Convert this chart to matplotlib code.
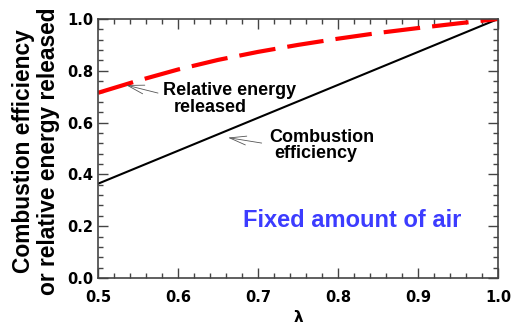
import numpy as np
import matplotlib
matplotlib.use("Agg")
import matplotlib.pyplot as plt
from matplotlib.ticker import MultipleLocator

# lambda values and the two curves read at those points
lam_energy = [0.50, 0.55, 0.60, 0.65, 0.70, 0.75, 0.80, 0.85, 0.90, 0.95, 1.00]
rel_energy = [0.715, 0.762, 0.805, 0.842, 0.873, 0.900, 0.924, 0.946, 0.965, 0.983, 1.000]
lam_eff = [0.5, 1.0]
comb_eff = [0.364, 1.0]

TICK_FONT = ['DejaVu Sans']
TEXT_FONT = ['Liberation Sans', 'DejaVu Sans']

plt.rcParams['font.family'] = TICK_FONT
plt.rcParams['font.weight'] = 'bold'

fig = plt.figure(figsize=(5.13, 3.31), dpi=100)
ax = fig.add_axes([98/513, 53/331, 400/513, 259/331])

ax.plot(lam_eff, comb_eff, color='black', lw=1.5)
ax.plot(lam_energy, rel_energy, color='red', lw=3, dashes=(8.8, 2.9))

ax.set_xlim(0.5, 1.0)
ax.set_ylim(0.0, 1.0)
ax.xaxis.set_major_locator(MultipleLocator(0.1))
ax.xaxis.set_minor_locator(MultipleLocator(0.02))
ax.yaxis.set_major_locator(MultipleLocator(0.2))
ax.yaxis.set_minor_locator(MultipleLocator(0.04))
ax.xaxis.set_major_formatter(lambda v, p: f"{v:.1f}")
ax.yaxis.set_major_formatter(lambda v, p: f"{v:.1f}")
ax.tick_params(which='both', direction='in', top=True, right=True,
               color='#444444', width=1.0)
ax.tick_params(which='major', length=7.5, labelsize=10.5)
ax.tick_params(which='minor', length=3.5)
ax.tick_params(axis='x', which='major', pad=9)
ax.tick_params(axis='y', which='major', pad=3.5)
for sp in ax.spines.values():
    sp.set_color('#444444')
    sp.set_linewidth(1.2)

ax.set_xlabel('λ', fontsize=11, fontweight='bold', labelpad=3)
fig.text(36/513, 1 - 151/331, 'Combustion efficiency\nor relative energy released',
         rotation=90, ha='center', va='center', fontsize=16.4, family=TEXT_FONT,
         fontweight='bold', linespacing=1.1)

# open arrowheads pointing at each curve
arrow = dict(arrowstyle='->,head_length=1.2,head_width=0.32', color='#555555',
             lw=0.6, shrinkA=0, shrinkB=0, mutation_scale=10)
ax.annotate('', xy=(0.535, 0.745), xytext=(0.575, 0.714), arrowprops=arrow)
ax.annotate('', xy=(0.6625, 0.542), xytext=(0.7046, 0.521), arrowprops=arrow)

label_kw = dict(fontsize=13, fontweight='bold', family=TEXT_FONT,
                ha='center', va='baseline')
ax.text(0.664, 0.705, 'Relative energy', **label_kw)
ax.text(0.640, 0.642, 'released', **label_kw)
ax.text(0.780, 0.527, 'Combustion', **label_kw)
ax.text(0.772, 0.462, 'efficiency', **label_kw)

ax.text(0.818, 0.198, 'Fixed amount of air', color='#3c3cff', fontsize=17,
        fontweight='bold', family=TEXT_FONT, ha='center', va='baseline')

fig.savefig('out.png', dpi=100)
